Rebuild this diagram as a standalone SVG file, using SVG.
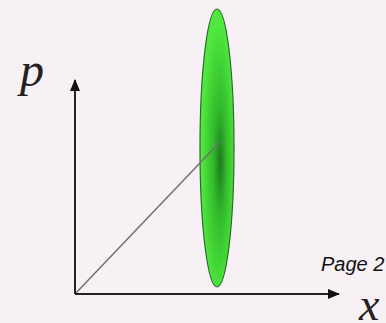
<svg xmlns="http://www.w3.org/2000/svg" width="386" height="323" viewBox="0 0 386 323">
<defs>
<radialGradient id="g" cx="0.55" cy="0.55" r="0.5" fx="0.6" fy="0.55">
<stop offset="0" stop-color="#1e7a1e"/>
<stop offset="0.4" stop-color="#32bb2c"/>
<stop offset="1" stop-color="#50e83e"/>
</radialGradient>
<marker id="ah" viewBox="0 0 12 10" refX="11" refY="5" markerWidth="12" markerHeight="10" markerUnits="userSpaceOnUse" orient="auto">
<path d="M0,0 L12,5 L0,10 Z" fill="#111"/>
</marker>
<style>
.axis{stroke:#222;stroke-width:2;fill:none}
.lbl{font-family:"Liberation Serif",serif;font-style:italic;font-size:48px;fill:#222}
</style>
</defs>
<rect width="386" height="323" fill="#f7f0f5"/>
<g id="blob">
<ellipse cx="217" cy="148" rx="17" ry="139" fill="url(#g)" stroke="#2a6a2a" stroke-width="1.2"/>
</g>
<g id="connectors">
<line x1="75" y1="294" x2="220" y2="142" stroke="#707070" stroke-width="1.5"/>
<line class="axis" x1="75" y1="294" x2="75" y2="80" marker-end="url(#ah)"/>
<line class="axis" x1="75" y1="294" x2="339" y2="294" marker-end="url(#ah)"/>
</g>
<g id="labels">
<text class="lbl" x="20" y="86">p</text>
<text class="lbl" x="359" y="320" style="font-size:46px">x</text>
<text x="321" y="271" font-family="'Liberation Sans',Arial,sans-serif" font-style="italic" font-size="20" fill="#111">Page 2</text>
</g>
</svg>
